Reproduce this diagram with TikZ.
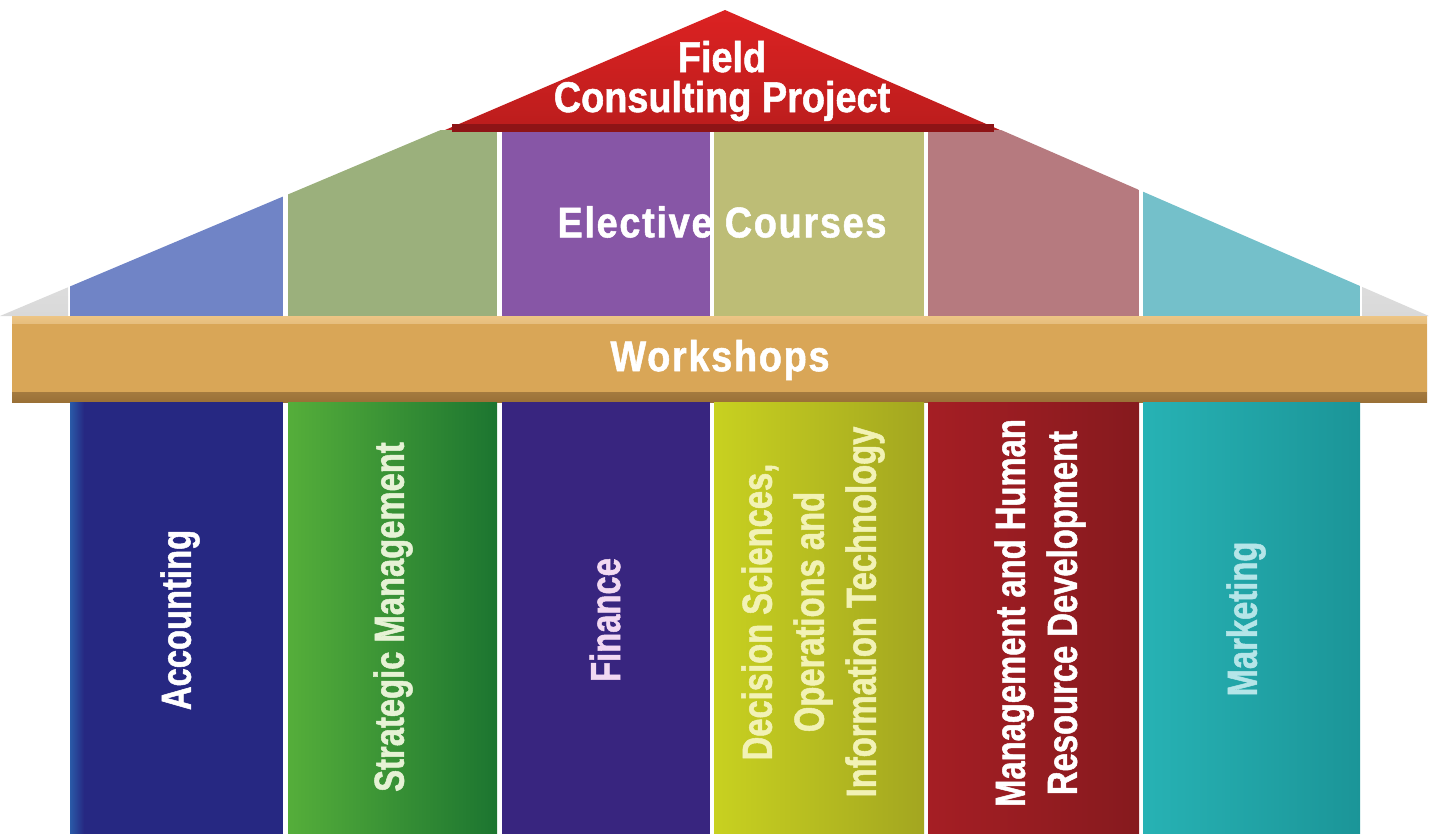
\documentclass[tikz,border=0pt]{standalone}
\usepackage{fontspec}
\newfontfamily\pillarfont[FakeStretch=0.78,FakeBold=1.2]{Liberation Sans}
\newfontfamily\rooffont[FakeStretch=0.88,FakeBold=1.2]{Liberation Sans}
\newfontfamily\widefont[FakeStretch=0.88,FakeBold=1.2,LetterSpace=4]{Liberation Sans}
\definecolor{elblue}{HTML}{7084C6}
\definecolor{elgreen}{HTML}{9BB07C}
\definecolor{elpurple}{HTML}{8756A6}
\definecolor{elolive}{HTML}{BDBD76}
\definecolor{elrose}{HTML}{B67A7F}
\definecolor{elcyan}{HTML}{74C0CA}
\definecolor{roofred}{HTML}{DC2222}
\definecolor{roofdark}{HTML}{8E1416}
\definecolor{barhi}{HTML}{EDC585}
\definecolor{barmid}{HTML}{D9A657}
\definecolor{barlo}{HTML}{9A7036}
\definecolor{accblue}{HTML}{262882}
\definecolor{accedge}{HTML}{2A5AA8}
\definecolor{stratl}{HTML}{55AE3A}
\definecolor{stratm}{HTML}{3F9C33}
\definecolor{stratr}{HTML}{1C7530}
\definecolor{finpurple}{HTML}{38257F}
\definecolor{dsoitl}{HTML}{C8D120}
\definecolor{dsoitr}{HTML}{A3A620}
\definecolor{mhrdred}{HTML}{A51E24}
\definecolor{mhrdr}{HTML}{861A1E}
\definecolor{mktcyan}{HTML}{27B2B4}
\definecolor{mktr}{HTML}{1B9598}
\definecolor{stratlt}{HTML}{E6F2D5}
\definecolor{finlt}{HTML}{F2D9F2}
\definecolor{dsoitlt}{HTML}{F2F2B5}
\definecolor{mktlt}{HTML}{B5E5E8}

\begin{document}
\begin{tikzpicture}[x=0.5pt,y=-0.5pt,
    pillartext/.style={rotate=90,align=center,inner sep=0pt,
        font=\pillarfont\bfseries\fontsize{21}{26}\selectfont},
    rooftext/.style={align=center,inner sep=0pt,text=white,
        font=\rooffont\bfseries\fontsize{21.5}{20}\selectfont},
    widetext/.style={rooftext,font=\widefont\bfseries\fontsize{21.5}{20}\selectfont}]
    \useasboundingbox (0,0) rectangle (1429,834);

    % elective courses under the roof
    \begin{scope}
    \clip (725,10) -- (0,316) -- (1429,316) -- cycle;
    \shade[top color=white,bottom color=gray!30] (0,0) rectangle (68,318);
    \shade[top color=white,bottom color=gray!30] (1362,0) rectangle (1429,318);
    \fill[elblue] (70,130) rectangle (283,318);
    \fill[elgreen] (288,130) rectangle (497,318);
    \fill[elpurple] (502,130) rectangle (710,318);
    \fill[elolive] (714,130) rectangle (924,318);
    \fill[elrose] (928,130) rectangle (1139,318);
    \fill[elcyan] (1143,130) rectangle (1360,318);
    \end{scope}
    \node[widetext] (elect) at (722,222) {Elective Courses};

    % field consulting project
    \shade[top color=roofred,bottom color=roofred!85!black] (725,10) -- (445,130) -- (1000,130) -- cycle;
    \draw[roofdark,line width=4] (452,128) -- (994,128);
    \node[rooftext] (field) at (722,81) {Field\\Consulting Project};

    % workshops
    \shade[top color=barhi,middle color=barmid,bottom color=barlo] (12,316) rectangle (1427,402);
    \fill[barmid] (12,324) rectangle (1427,392);
    \node[widetext] (work) at (720,360) {Workshops};

    % pillars
    \fill[accblue] (70,402) rectangle (283,834);
    \shade[left color=accedge,right color=accblue] (70,402) rectangle (84,834);
    \shade[left color=stratl,middle color=stratm,right color=stratr] (288,402) rectangle (497,834);
    \fill[finpurple] (502,402) rectangle (710,834);
    \shade[left color=dsoitl,middle color=dsoitl,right color=dsoitr] (714,402) rectangle (924,834);
    \shade[left color=mhrdred,middle color=mhrdred,right color=mhrdr] (928,402) rectangle (1139,834);
    \shade[left color=mktcyan,middle color=mktcyan,right color=mktr] (1143,402) rectangle (1360,834);

    \node[pillartext,text=white] (acc) at (180,620) {Accounting};
    \node[pillartext,text=stratlt] (strat) at (393,617) {Strategic Management};
    \node[pillartext,text=finlt] (fin) at (605,620) {Finance};
    \node[pillartext,text=dsoitlt] (dsoit) at (813,612) {Decision Sciences,\\Operations and\\Information Technology};
    \node[pillartext,text=white] (mhrd) at (1040,613) {Management and Human\\Resource Development};
    \node[pillartext,text=mktlt] (mkt) at (1246,619) {Marketing};
\end{tikzpicture}
\end{document}
